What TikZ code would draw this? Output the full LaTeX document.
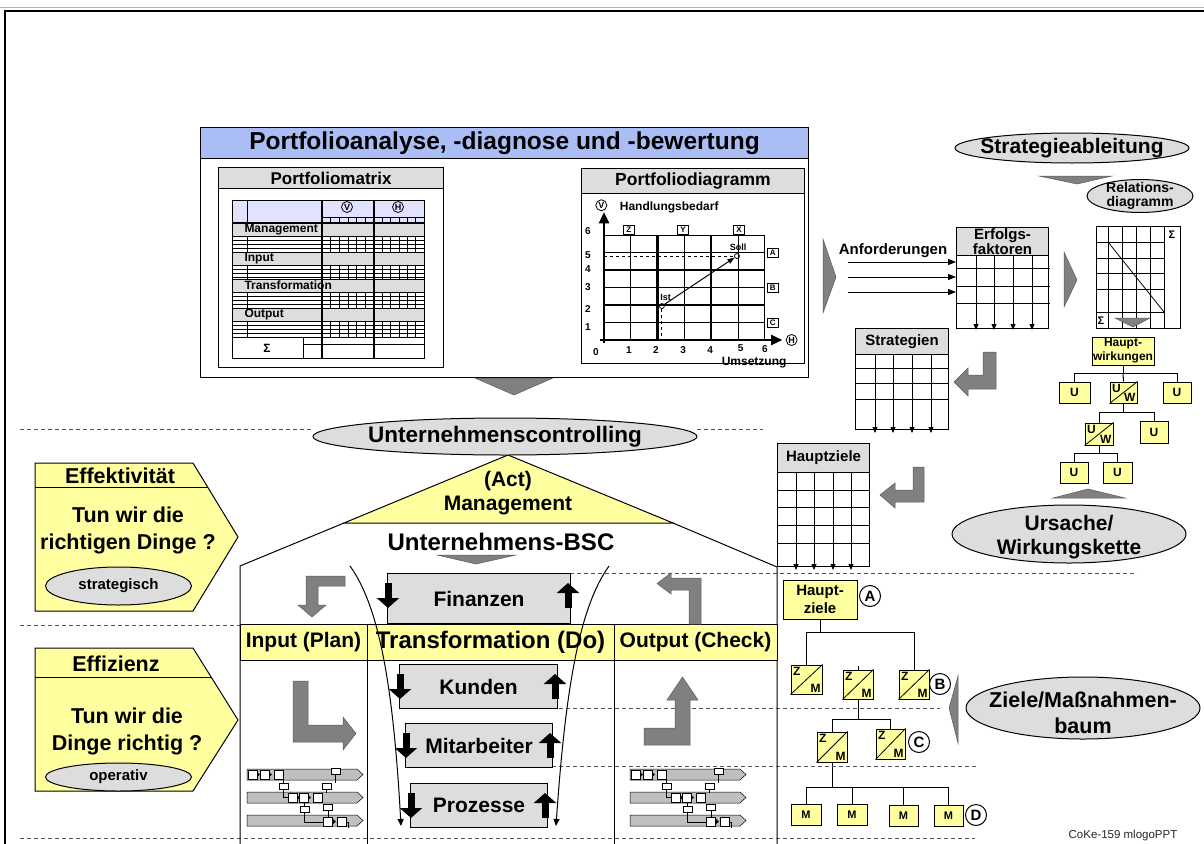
\documentclass[tikz,border=0pt]{standalone}
\usepackage{fontspec}
\setmainfont{Liberation Sans}
\usetikzlibrary{arrows.meta,calc,positioning}

\definecolor{hellgelb}{RGB}{255,255,160}
\definecolor{hellgrau}{RGB}{221,221,221}
\definecolor{pfeilgrau}{RGB}{128,128,128}
\definecolor{titelblau}{RGB}{170,190,245}
\definecolor{kopflila}{RGB}{224,226,255}
\definecolor{strichgrau}{RGB}{85,85,85}

\newcommand{\schrift}[2]{\fontsize{#1}{#2}\selectfont\bfseries}

% gelbes Kaestchen mit Diagonale (U/W, Z/M)
\newcommand{\teilbox}[7]{%
  \node[ybox, minimum width=#3, minimum height=#4] (#1) at (#2) {};
  \draw[line width=0.8pt] (#1.south west) -- (#1.north east);
  \node[anchor=north west, inner sep=2pt, font=\schrift{#7}{#7}] (#1o) at (#1.north west) {#5};
  \node[anchor=south east, inner sep=1.5pt, font=\schrift{#7}{#7}] (#1u) at (#1.south east) {#6};
}

\tikzset{
  ybox/.style={draw, fill=hellgelb, inner sep=1pt, align=center},
  gbox/.style={draw, fill=hellgrau, inner sep=1pt, align=center, anchor=north west},
  rahmen/.style={draw, inner sep=0pt, anchor=north west},
  oval/.style={draw, fill=hellgrau},
  trenn/.style={strichgrau, line width=0.9pt, dash pattern=on 4pt off 3pt},
  keil/.style={fill=pfeilgrau, draw=pfeilgrau!70!black, line width=0.5pt},
  blockpfeil/.style={line width=7pt, -{Triangle[length=10pt,width=22pt]}},
  rasterpfeil/.style={line width=0.8pt, -{Triangle[length=6pt,width=5pt]}},
  kreis/.style={circle, draw, fill=white, inner sep=0pt, minimum size=21pt, font=\schrift{15}{15}},
  kreisklein/.style={circle, draw, inner sep=0pt, minimum size=11pt, line width=0.8pt, font=\schrift{9}{9}},
  kaestchen/.style={draw, inner sep=0pt, minimum width=11pt, minimum height=9pt, line width=0.8pt, font=\schrift{8}{8}},
  ablauf/.pic={
    \foreach \y in {0,23,46} {
      \filldraw[fill=gray!50, line width=0.5pt] (0,\y) -- (110,\y) -- (116,\y+5.5) -- (110,\y+11) -- (0,\y+11) -- cycle;
    }
    \foreach \x/\y in {1/1, 13/1, 27/1, 41/24, 52/24, 66/24, 76/48, 90/48} {
      \filldraw[fill=white, line width=0.5pt] (\x,\y) rectangle ++(9,9);
    }
    \foreach \x/\y in {84/-1, 32/14, 75/14, 53/37, 76/35} {
      \filldraw[fill=white, line width=0.5pt] (\x,\y) rectangle ++(9,6);
    }
    \draw[line width=0.5pt] (36,10) -- (36,14) (36,20) |- (41,28) (79,20) -- (79,24)
      (88,5) -- (88,14) (57,33) -- (57,37) (57,43) |- (76,53) (81,41) -- (81,48)
      (99,53) -- (101,53) -- (101,59);
    \foreach \x/\y in {10/5.5, 22/5.5, 50/28.5, 61/28.5, 86/52.5} {
      \fill (\x,\y-2.5) -- (\x+3,\y) -- (\x,\y+2.5) -- cycle;
    }
  }
}

\begin{document}
\begin{tikzpicture}[x=1pt,y=1pt,yscale=-1,line width=1pt]
\useasboundingbox (0,0) rectangle (1204,843);

% Rahmen
\draw[line width=0.8pt, gray!60] (0,7) -- (1204,7);
\draw[line width=2pt] (5,845) -- (5,11) -- (1206,11);

%%%%%%%% Portfolioanalyse
\node[rahmen, minimum width=608pt, minimum height=250pt] (pbox) at (200,127) {};
\node[gbox, fill=titelblau, minimum width=608pt, minimum height=31pt, font=\schrift{24.5}{24.5}] (ptitel) at (200,127) {Portfolioanalyse, -diagnose und -bewertung};
\filldraw[keil] (475,378) -- (553,378) -- (514,395) -- cycle;

% Portfoliomatrix
\node[rahmen, minimum width=225pt, minimum height=200pt] (pm) at (218,167) {};
\node[gbox, minimum width=225pt, minimum height=21pt, font=\schrift{17}{17}] (pmkopf) at (218,167) {Portfoliomatrix};
\filldraw[fill=kopflila, line width=0.8pt] (232,200) rectangle (424,222);
\draw[line width=0.8pt] (247,200) -- (247,222);
\draw[line width=0.8pt] (322,217) -- (424,217);
\foreach \i in {1,...,5} {
  \draw[line width=0.8pt] (322+8.67*\i,217) -- (322+8.67*\i,222);
  \draw[line width=0.8pt] (374+8.33*\i,217) -- (374+8.33*\i,222);
}
\node[kreisklein] (mv) at (347,207) {V};
\node[kreisklein] (mh) at (398,207) {H};
\foreach \y/\t in {223/Management, 252/Input, 279/Transformation, 308/Output} {
  \filldraw[fill=hellgrau, line width=0.8pt] (232,\y) rectangle (424,\y+13);
  \node[anchor=west, inner sep=0pt, font=\schrift{12}{12}] (mz\t) at (244,\y+6.5) {\t};
  \foreach \d in {4,8,12} \draw[line width=0.6pt] (232,\y+13+\d) -- (424,\y+13+\d);
  \draw[line width=0.8pt] (247,\y+13) -- (247,\y+29);
  \foreach \i in {1,...,5} {
    \draw[line width=0.8pt] (322+8.67*\i,\y+13) -- (322+8.67*\i,\y+29);
    \draw[line width=0.8pt] (374+8.33*\i,\y+13) -- (374+8.33*\i,\y+29);
  }
}
\draw[line width=0.8pt] (232,337) -- (424,337);
\draw[line width=0.8pt] (303,337) -- (303,358);
\draw[line width=0.8pt] (303,344) -- (424,344);
\node[font=\schrift{12}{12}] (msum) at (267,348) {Σ};
\draw[line width=2pt] (322,200) -- (322,358) (374,200) -- (374,358);
\draw[line width=1pt] (232,200) rectangle (424,358);

% Portfoliodiagramm
\node[rahmen, minimum width=223pt, minimum height=195pt] (pd) at (581,168) {};
\node[gbox, minimum width=223pt, minimum height=25pt, font=\schrift{17.5}{17.5}] (pdkopf) at (581,168) {Portfoliodiagramm};
\begin{scope}[shift={(604,340)}, x=26.8pt, y=-17.5pt]
  \foreach \i in {1,3,5,6} {
    \draw[line width=0.8pt] (\i,0) -- (\i,6);
    \draw[line width=0.8pt] (0,\i) -- (6,\i);
  }
  \foreach \i in {2,4} {
    \draw[line width=2.4pt] (\i,0) -- (\i,6);
    \draw[line width=2.4pt] (0,\i) -- (6,\i);
  }
  \draw[line width=2.4pt, -{Triangle[length=11pt,width=10pt]}] (0,-0.15) -- (0,7.3);
  \draw[line width=2.4pt, -{Triangle[length=11pt,width=10pt]}] (-0.15,0) -- (6.65,0);
  \node[kreisklein] (achsev) at (-0.1,7.7) {V};
  \node[anchor=west, font=\schrift{12}{12}] (hbedarf) at (0.45,7.6) {Handlungsbedarf};
  \node[kreisklein] (achseh) at (7.0,0) {H};
  \node[font=\schrift{12}{12}] (umsetz) at (5.6,-1.3) {Umsetzung};
  \foreach \n/\y in {6/6.2, 5/4.85, 4/4.05, 3/3.0, 2/1.75, 1/0.75}
    \node[font=\schrift{10}{10}] (yl\n) at (-0.6,\y) {\n};
  \foreach \n/\x in {1/0.93, 2/1.94, 3/2.95, 4/3.96}
    \node[font=\schrift{10}{10}] (xl\n) at (\x,-0.55) {\n};
  \node[font=\schrift{10}{10}] (xl5) at (5.1,-0.45) {5};
  \node[font=\schrift{10}{10}] (xl6) at (6.0,-0.5) {6};
  \node[font=\schrift{10}{10}] (xl0) at (-0.3,-0.7) {0};
  \foreach \b/\x in {Z/0.93, Y/2.95, X/5.04} \node[kaestchen] (pd\b) at (\x,6.3) {\b};
  \foreach \b/\y in {A/5.0, B/3.0, C/1.0} \node[kaestchen] (pd\b) at (6.3,\y) {\b};
  \node[circle, draw, inner sep=0pt, minimum size=5pt, line width=0.8pt] (ist) at (2.16,1.94) {};
  \node[circle, draw, inner sep=0pt, minimum size=5pt, line width=0.8pt] (soll) at (4.96,4.8) {};
  \node[font=\schrift{9}{9}] (istt) at (2.3,2.45) {Ist};
  \node[font=\schrift{9}{9}] (sollt) at (5.0,5.3) {Soll};
  \coordinate (ist0) at (2.16,0);
  \coordinate (soll0) at (0,4.8);
  \draw[dashed, line width=0.8pt] (ist) -- (ist0);
  \draw[dashed, line width=0.8pt] (soll0) -- (soll);
  \draw[line width=1pt, -{Triangle[length=7pt,width=5pt]}] (ist) -- (soll);
\end{scope}

%%%%%%%% Strategieableitung
\draw[oval] (1072,148) ellipse [x radius=117, y radius=15];
\node[font=\schrift{21}{21}] (strabl) at (1072,148) {Strategieableitung};
\filldraw[keil] (1039,176) -- (1112,176) -- (1077,184) -- cycle;
\draw[oval] (1140,196) ellipse [x radius=53, y radius=16.5];
\node[font=\schrift{14}{13.5}, align=center] (relk) at (1140,196) {Relations-\\diagramm};

\filldraw[keil] (823,239) -- (836,277) -- (823,313) -- cycle;
\node[font=\schrift{15}{15}] (anf) at (893,251) {Anforderungen};

% Erfolgsfaktoren
\node[rahmen, minimum width=92pt, minimum height=101pt] (ef) at (956,227) {};
\node[gbox, minimum width=92pt, minimum height=28pt, font=\schrift{15}{13}] (efkopf) at (956,227) {Erfolgs-\\faktoren};
\foreach \y in {268,286,303} \draw[line width=0.8pt] (956,\y) -- (1050,\y);
\foreach \x in {976,994,1013,1032} \draw[rasterpfeil] (\x,255) -- (\x,330);
\foreach \i/\y in {1/262, 2/277, 3/292} {
  \coordinate (anf\i) at (848,\y);
  \draw[-{Triangle[length=8pt,width=6pt]}] (anf\i) -- (anf\i -| ef.west);
}

\filldraw[keil] (1064,252) -- (1077,280) -- (1064,307) -- cycle;

% Relationsdiagramm
\node[rahmen, minimum width=84pt, minimum height=102pt] (rel) at (1096,226) {};
\foreach \x in {1108,1122,1136,1150,1164} \draw[line width=0.8pt] (\x,226) -- (\x,328);
\foreach \y in {242,258,273,289,312} \draw[line width=0.8pt] (1096,\y) -- (1164,\y);
\draw[line width=0.8pt] (1108,242) -- (1164,312);
\node[font=\schrift{11}{11}] (relsum1) at (1172,235) {Σ};
\node[font=\schrift{11}{11}] (relsum2) at (1101,321) {Σ};
\filldraw[keil] (1115,318) -- (1150,318) -- (1133,327) -- cycle;

% Strategien
\node[rahmen, minimum width=93pt, minimum height=101pt] (st) at (855,328) {};
\node[gbox, minimum width=93pt, minimum height=26pt, font=\schrift{15}{15}] (stkopf) at (855,328) {Strategien};
\foreach \y in {368,383,399} \draw[line width=0.8pt] (855,\y) -- (948,\y);
\foreach \x in {875,893,912,931} \draw[rasterpfeil] (\x,354) -- (\x,433);
\filldraw[keil] (996,352) -- (996,389) -- (968,389) -- (968,396) -- (954,382) -- (968,368) -- (968,375) -- (983,375) -- (983,352) -- cycle;

% Ursache/Wirkungskette
\node[ybox, minimum width=61pt, minimum height=28pt, font=\schrift{12}{14}] (hw) at (1123,351) {Haupt-\\wirkungen};
\node[ybox, minimum width=31pt, minimum height=21pt, font=\schrift{12}{12}] (hu1) at (1074.5,392.5) {U};
\teilbox{huw1}{1123.5,392.5}{27pt}{21pt}{U}{W}{12}
\node[ybox, minimum width=28pt, minimum height=21pt, font=\schrift{12}{12}] (hu2) at (1177,392.5) {U};
\teilbox{huw2}{1099,434}{28pt}{22pt}{U}{W}{12}
\node[ybox, minimum width=28pt, minimum height=22pt, font=\schrift{12}{12}] (hu3) at (1154,432) {U};
\node[ybox, minimum width=28pt, minimum height=21pt, font=\schrift{12}{12}] (hu4) at (1074,472.5) {U};
\node[ybox, minimum width=29pt, minimum height=21pt, font=\schrift{12}{12}] (hu5) at (1117.5,472.5) {U};
\draw (hw.south) -- ++(0,8) coordinate (hwj);
\draw (hu1.north) |- (hwj) -| (hu2.north);
\draw (hwj) -- (huw1.north);
\draw (huw1.south) -- ++(0,9) coordinate (uwj1);
\draw (huw2.north) |- (uwj1) -| (hu3.north);
\draw (huw2.south) -- ++(0,8) coordinate (uwj2);
\draw (hu4.north) |- (uwj2) -| (hu5.north);
\filldraw[keil] (1053,498) -- (1088,489) -- (1125,498) -- cycle;
\draw[oval] (1069,534) ellipse [x radius=117, y radius=29];
\node[font=\schrift{21}{24}, align=center] (ursache) at (1069,537) {Ursache/\\Wirkungskette};

% Hauptziele
\node[rahmen, minimum width=92pt, minimum height=123pt] (hzr) at (777,443) {};
\node[gbox, minimum width=92pt, minimum height=29pt, font=\schrift{15}{15}] (hzkopf) at (777,443) {Hauptziele};
\foreach \y in {490,507,525,543} \draw[line width=0.8pt] (777,\y) -- (869,\y);
\foreach \x in {796,814,833,851} \draw[rasterpfeil] (\x,472) -- (\x,570);
\filldraw[keil] (924,467) -- (924,502) -- (895,502) -- (895,508) -- (880,495) -- (895,483) -- (895,490) -- (913,490) -- (913,467) -- cycle;

%%%%%%%% Ziele/Massnahmenbaum
\node[ybox, minimum width=74pt, minimum height=39pt, font=\schrift{15}{18}] (hzb) at (820,599.5) {Haupt-\\ziele};
\node[kreis] (kA) at (870,596) {A};
\teilbox{zm1}{806.5,679.5}{31pt}{29pt}{Z}{M}{12}
\teilbox{zm2}{858,684.5}{30pt}{29pt}{Z}{M}{12}
\teilbox{zm3}{914,684.5}{30pt}{29pt}{Z}{M}{12}
\node[kreis] (kB) at (940,684) {B};
\draw (hzb.south) -- ++(0,13) coordinate (hzj);
\draw (zm1.north) |- (hzj) -| (zm3.north);
\draw (zm2.north) -- ++(0,-4);
\teilbox{zmc1}{832,747}{30pt}{30pt}{Z}{M}{12}
\teilbox{zmc2}{890.5,744}{29pt}{30pt}{Z}{M}{12}
\node[kreis] (kC) at (919,742) {C};
\draw (zm2.south) -- ++(0,20) coordinate (zmj);
\draw (zmc1.north) |- (zmj) -| (zmc2.north);
\node[ybox, minimum width=30pt, minimum height=21pt, font=\schrift{11}{11}] (m1) at (806,814.5) {M};
\node[ybox, minimum width=30pt, minimum height=21pt, font=\schrift{11}{11}] (m2) at (852,814.5) {M};
\node[ybox, minimum width=29pt, minimum height=21pt, font=\schrift{11}{11}] (m3) at (903.5,816) {M};
\node[ybox, minimum width=29pt, minimum height=21pt, font=\schrift{11}{11}] (m4) at (948.5,816) {M};
\node[kreis] (kD) at (976,815) {D};
\draw (zmc1.south) -- ++(0,25) coordinate (zmj2);
\draw (m1.north) |- (zmj2) -| (m4.north);
\draw (m2.north) -- (m2.north |- zmj2);
\draw (m3.north) -- (m3.north |- zmj2);
\filldraw[keil] (958,676) -- (949,708) -- (958,743) -- cycle;
\draw[oval] (1083,708) ellipse [x radius=117, y radius=31];
\node[font=\schrift{21.5}{26}, align=center] (zielbaum) at (1083,713) {Ziele/Maßnahmen-\\baum};

%%%%%%%% Trennlinien
\draw[trenn] (20,429) -- (313,429);
\draw[trenn] (697,429) -- (763,429);
\draw[trenn] (20,625) -- (240,625);
\draw[trenn] (570,573) -- (1137,573);
\draw[trenn] (510,708) -- (940,708);
\draw[trenn] (552,766) -- (978,766);
\draw[trenn] (20,838) -- (975,838);

%%%%%%%% Effektivitaet / Effizienz
\filldraw[fill=hellgelb] (35,463) -- (193,463) -- (238,537) -- (193,611) -- (35,611) -- cycle;
\draw (35,487) -- (207.5,487);
\node[font=\schrift{21.5}{21.5}] (effekt) at (120,476) {Effektivität};
\node[font=\schrift{21.5}{27}, align=center] (effektq) at (128,530) {Tun wir die\\richtigen Dinge ?};
\draw[oval] (118.5,586) ellipse [x radius=73, y radius=19];
\node[font=\schrift{15}{15}] (strat) at (118.5,586) {strategisch};

\filldraw[fill=hellgelb] (35,648) -- (193,648) -- (238,720) -- (193,791) -- (35,791) -- cycle;
\draw (35,677) -- (211,677);
\node[font=\schrift{21.5}{21.5}] (effiz) at (116,664) {Effizienz};
\node[font=\schrift{21.5}{27}, align=center] (effizq) at (127,731) {Tun wir die\\Dinge richtig ?};
\draw[oval] (118.5,777) ellipse [x radius=73, y radius=14];
\node[font=\schrift{15}{15}] (oper) at (118.5,777) {operativ};

%%%%%%%% Unternehmens-BSC (Haus)
\filldraw[fill=hellgelb] (344,523) -- (508,455) -- (673,523) -- cycle;
\draw (240,845) -- (240,566) -- (344,523);
\draw (673,523) -- (777,567) -- (777,845);
\draw[oval] (505,436.5) ellipse [x radius=192, y radius=18.5];
\node[font=\schrift{22.5}{22.5}] (ucontr) at (505,437) {Unternehmenscontrolling};
\node[font=\schrift{21}{24}, align=center] (act) at (508,493) {(Act)\\Management};
\node[font=\schrift{24}{24}] (bsc) at (501,542) {Unternehmens-BSC};
\filldraw[keil] (437,555) -- (516,555) -- (476,564) -- cycle;

\filldraw[fill=hellgelb] (240,624) rectangle (777,660);
\draw (367,624) -- (367,845);
\draw (614,624) -- (614,845);
\node[font=\schrift{21}{21}] (inp) at (303.5,642) {Input (Plan)};
\node[font=\schrift{24}{24}] (trans) at (490.5,642) {Transformation (Do)};
\node[font=\schrift{21}{21}] (outp) at (695.5,642) {Output (Check)};

\node[gbox, minimum width=183pt, minimum height=50pt, font=\schrift{21}{21}] (fin) at (387,573) {Finanzen};
\node[gbox, minimum width=158pt, minimum height=44pt, font=\schrift{21}{21}] (kun) at (399,664) {Kunden};
\node[gbox, minimum width=147pt, minimum height=44pt, font=\schrift{21}{21}] (mit) at (405,723) {Mitarbeiter};
\node[gbox, minimum width=137pt, minimum height=44pt, font=\schrift{21}{21}] (pro) at (410,783) {Prozesse};

\draw[-{Triangle[length=7pt,width=6pt]}] (350,566) .. controls (378,605) and (393,680) .. (401,826);
\draw[-{Triangle[length=7pt,width=6pt]}] (609,566) .. controls (581,605) and (566,680) .. (556,826);

\foreach \b in {fin,kun,mit,pro} {
  \draw[blockpfeil] ($(\b.north west)+(1,10)$) -- ($(\b.north west)+(1,35)$);
  \draw[blockpfeil] ($(\b.north east)+(-3,35)$) -- ($(\b.north east)+(-3,10)$);
}

% graue Winkelpfeile
\filldraw[keil] (345,576) -- (306,576) -- (306,605) -- (298,605) -- (312,617) -- (326,605) -- (318,605) -- (318,586) -- (345,586) -- cycle;
\filldraw[keil] (701,624) -- (701,578) -- (671,578) -- (671,573) -- (657,583.5) -- (671,594) -- (671,590) -- (689,590) -- (689,624) -- cycle;
\filldraw[keil] (293,681) -- (308,681) -- (308,725) -- (343,725) -- (343,717) -- (356,733.5) -- (343,750) -- (343,742) -- (293,742) -- cycle;
\filldraw[keil] (644,728) -- (675,728) -- (675,700) -- (667,700) -- (682.5,677) -- (698,700) -- (690,700) -- (690,745) -- (644,745) -- cycle;

\pic[yscale=-1] (ganttein) at (247,769) {ablauf};
\pic[yscale=-1] (ganttaus) at (630,769) {ablauf};

\node[font=\fontsize{11.5}{11.5}\selectfont, text=black!85] (quelle) at (1123,836) {CoKe-159 mlogoPPT};

\end{tikzpicture}
\end{document}
